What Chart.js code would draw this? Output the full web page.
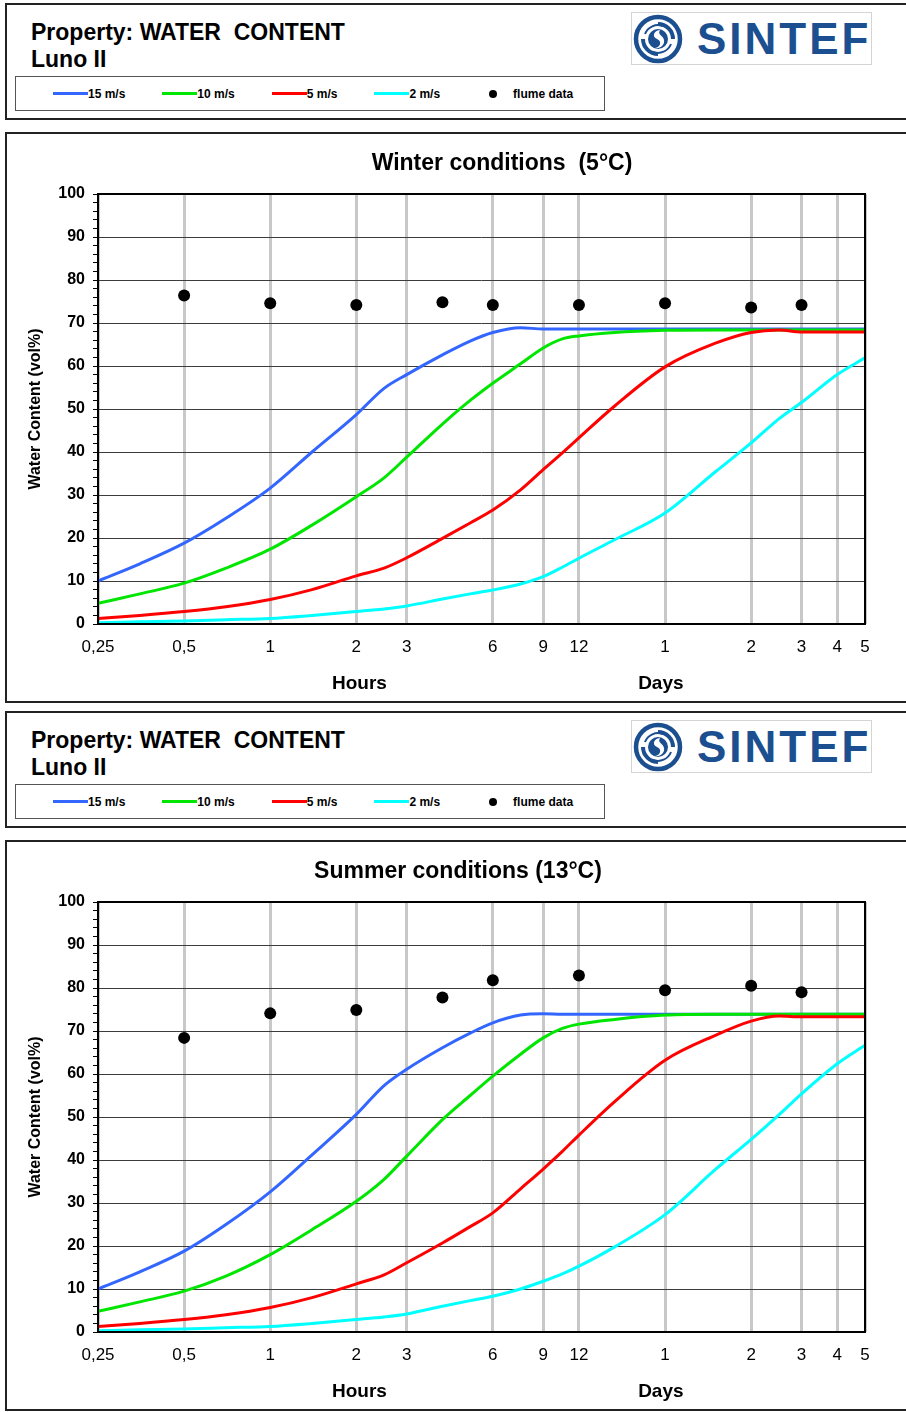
<!DOCTYPE html>
<html>
<head>
<meta charset="utf-8">
<title>Water content - Luno II</title>
<script src="https://cdn.jsdelivr.net/npm/chart.js@4.4.0/dist/chart.umd.min.js"></script>
<style>
  body { margin: 0; width: 906px; height: 1412px; overflow: hidden; background: #fff; position: relative;
         font-family: 'Liberation Sans', Arial, sans-serif; color: #000; }
  .panel { position: absolute; left: 5px; width: 912px; border: 2px solid #222; box-sizing: border-box; }
  .head { height: 117px; }
  .plot { height: 571px; }
  .prop, .prod { position: absolute; left: 24px; font-weight: bold; font-size: 23px; line-height: 25px; white-space: nowrap; }
  .prop { top: 15px; }
  .prod { top: 42px; }
  .legend { position: absolute; left: 8px; top: 71px; width: 590px; height: 35px; border: 1px solid #555;
            box-sizing: border-box; display: flex; align-items: center; padding-left: 37px; }
  .legend .item { display: flex; align-items: center; margin-right: 37px; font-size: 12px; font-weight: bold; white-space: nowrap; }
  .legend .swatch { width: 35px; height: 3px; }
  .legend .dot { width: 8px; height: 8px; border-radius: 50%; background: #000; margin-left: 12px; margin-right: 16px; }
  .logo { position: absolute; left: 624px; top: 7px; width: 241px; height: 53px; border: 1px solid #d4d4d4; box-sizing: border-box; }
  .logo svg { position: absolute; left: 1px; top: 1px; }
  .logo .name { position: absolute; left: 65px; top: 3px; font-size: 44px; line-height: 46px; font-weight: bold;
                color: #1b4f8f; letter-spacing: 3px; }
  .title { position: absolute; top: 15px; transform: translateX(-50%); font-size: 23px; line-height: 26px;
           font-weight: bold; white-space: pre; }
  canvas { position: absolute; left: 0; top: 0; }
</style>
</head>
<body>
<script>
// x positions of the model curves (hours after release)
const hours = [0.25, 0.35, 0.5, 0.7, 1, 1.4, 2, 2.5, 3, 4, 5, 6, 7.5, 9, 10.5, 12, 16, 24, 36, 48, 60, 72, 96, 120];

// Winter (5°C) model curves, vol%
const winter15 = [10.0, 14.0, 18.8, 24.6, 31.6, 40.0, 48.7, 54.8, 58.0, 62.6, 65.8, 67.8, 68.9, 68.6, 68.6, 68.6, 68.6, 68.6, 68.6, 68.6, 68.6, 68.6, 68.6, 68.6];
const winter10 = [4.8, 7.0, 9.5, 13.0, 17.4, 23.0, 29.6, 34.0, 38.8, 46.5, 52.0, 56.0, 60.5, 64.2, 66.3, 67.0, 67.8, 68.3, 68.4, 68.4, 68.4, 68.4, 68.4, 68.4];
const winter5 = [1.3, 2.0, 2.9, 4.0, 5.7, 8.0, 11.2, 13.0, 15.4, 19.9, 23.5, 26.5, 31.2, 35.9, 39.8, 43.3, 50.7, 59.8, 65.3, 67.8, 68.4, 67.9, 67.9, 67.9];
const winter2 = [0.3, 0.5, 0.7, 1.0, 1.3, 2.0, 2.9, 3.5, 4.2, 5.8, 7.0, 7.9, 9.3, 11.0, 13.2, 15.3, 19.6, 25.8, 35.4, 42.1, 47.7, 51.5, 58.0, 61.9];

// Summer (13°C) model curves, vol%
const summer15 = [10.0, 14.0, 18.8, 25.0, 32.6, 41.2, 50.6, 57.3, 61.1, 66.1, 69.5, 71.9, 73.7, 74.0, 73.9, 73.9, 73.9, 73.9, 73.9, 73.9, 73.9, 73.9, 73.9, 73.9];
const summer10 = [4.8, 7.0, 9.5, 13.0, 18.0, 23.8, 30.4, 35.5, 40.9, 49.4, 55.0, 59.5, 64.6, 68.4, 70.6, 71.6, 72.7, 73.7, 73.9, 73.9, 73.9, 73.9, 73.9, 73.9];
const summer5 = [1.3, 2.0, 2.9, 4.0, 5.7, 8.0, 11.2, 13.3, 16.1, 20.7, 24.5, 27.7, 33.3, 37.9, 42.0, 45.8, 53.6, 63.2, 69.0, 72.3, 73.5, 73.3, 73.3, 73.3];
const summer2 = [0.3, 0.5, 0.7, 1.0, 1.3, 2.0, 2.9, 3.5, 4.2, 6.0, 7.3, 8.3, 10.0, 11.8, 13.5, 15.3, 19.8, 27.3, 37.8, 44.8, 50.5, 55.4, 62.4, 66.7];

// flume measurements
const flumeHours = [0.5, 1, 2, 4, 6, 12, 24, 48, 72];
const winterFlume = [76.4, 74.6, 74.2, 74.8, 74.2, 74.2, 74.6, 73.6, 74.2];
const summerFlume = [68.4, 74.1, 74.9, 77.8, 81.8, 82.9, 79.5, 80.5, 79.0];

const seriesLabels = ['15 m/s', '10 m/s', '5 m/s', '2 m/s'];
const seriesColors = ['#3366ff', '#00e600', '#ff0000', '#00ffff'];
const drawOrder = [3, 2, 1, 4];
const flumeLabel = 'flume data';

// axis ticks (hours) and their printed labels
const xTicks = [0.25, 0.5, 1, 2, 3, 6, 9, 12, 24, 48, 72, 96, 120];
const xTickLabels = ['0,25', '0,5', '1', '2', '3', '6', '9', '12', '1', '2', '3', '4', '5'];
const yMin = 0, yMax = 100, yMajor = 10, yMinor = 2;
const axisGroups = [{ text: 'Hours', at: 2.05 }, { text: 'Days', at: 23.2 }];

const family = "'Liberation Sans', Arial, sans-serif";
Chart.defaults.font.family = family;

const logoSvg =
  '<svg width="50" height="50" viewBox="0 0 50 50">' +
  '<circle cx="25" cy="25" r="22" fill="none" stroke="#1b4f8f" stroke-width="4.5"/>' +
  '<path d="M25 10 A15 15 0 0 1 40 25" fill="none" stroke="#1b4f8f" stroke-width="4"/>' +
  '<path d="M25 40 A15 15 0 0 1 10 25" fill="none" stroke="#1b4f8f" stroke-width="4"/>' +
  '<path d="M12 20 A14 14 0 0 1 30 12" fill="none" stroke="#1b4f8f" stroke-width="2"/>' +
  '<path d="M38 30 A14 14 0 0 1 20 38" fill="none" stroke="#1b4f8f" stroke-width="2"/>' +
  '<circle cx="25" cy="25" r="10" fill="#1b4f8f"/>' +
  '<path d="M27 16 C20 17 19 23 24 25 C29 27 28 33 22 34 C27 35 32 31 31 26 C30 21 24 21 27 16 Z" fill="#fff"/>' +
  '</svg>';

function addHeader(top) {
  const head = document.createElement('div');
  head.className = 'panel head';
  head.style.top = top + 'px';
  let items = '';
  seriesLabels.forEach((label, i) => {
    items += `<div class="item"><span class="swatch" style="background:${seriesColors[i]}"></span>${label}</div>`;
  });
  items += `<div class="item"><span class="dot"></span>${flumeLabel}</div>`;
  head.innerHTML =
    '<div class="prop">Property: WATER&nbsp; CONTENT</div>' +
    '<div class="prod">Luno II</div>' +
    `<div class="legend">${items}</div>` +
    `<div class="logo">${logoSvg}<div class="name">SINTEF</div></div>`;
  document.body.appendChild(head);
}

// frame round the plot area
const frame = {
  id: 'frame',
  afterDatasetsDraw(chart) {
    const { ctx, chartArea: a } = chart;
    ctx.save();
    ctx.strokeStyle = '#000';
    ctx.lineWidth = 2;
    ctx.strokeRect(a.left, a.top, a.right - a.left, a.bottom - a.top);
    ctx.restore();
  }
};

// "Hours" / "Days" captions under the x axis
const groupLabels = {
  id: 'groupLabels',
  afterDraw(chart) {
    const { ctx, chartArea, scales: { x } } = chart;
    ctx.save();
    ctx.font = 'bold 19px ' + family;
    ctx.fillStyle = '#000';
    ctx.textAlign = 'center';
    ctx.textBaseline = 'middle';
    axisGroups.forEach(g => ctx.fillText(g.text, x.getPixelForValue(g.at), chartArea.bottom + 60));
    ctx.restore();
  }
};

function addChart(top, title, titleCenter, curves, flume) {
  const panel = document.createElement('div');
  panel.className = 'panel plot';
  panel.style.top = top + 'px';
  const t = document.createElement('div');
  t.className = 'title';
  t.style.left = titleCenter + 'px';
  t.textContent = title;
  const canvas = document.createElement('canvas');
  canvas.width = 899;
  canvas.height = 566;
  panel.appendChild(canvas);
  panel.appendChild(t);
  document.body.appendChild(panel);

  const datasets = curves.map((vals, i) => ({
    label: seriesLabels[i],
    data: hours.map((h, j) => ({ x: h, y: vals[j] })),
    borderColor: seriesColors[i],
    backgroundColor: seriesColors[i],
    borderWidth: 3,
    pointRadius: 0,
    cubicInterpolationMode: 'monotone',
    order: drawOrder[i]
  }));
  datasets.push({
    label: flumeLabel,
    data: flumeHours.map((h, j) => ({ x: h, y: flume[j] })),
    showLine: false,
    pointRadius: 6,
    pointBackgroundColor: '#000',
    pointBorderWidth: 0,
    order: 0
  });

  return new Chart(canvas, {
    type: 'line',
    data: { datasets },
    options: {
      responsive: false,
      animation: false,
      devicePixelRatio: 1,
      layout: { padding: { top: 60, right: 41, left: 0, bottom: 0 } },
      plugins: { legend: { display: false }, tooltip: { enabled: false } },
      scales: {
        x: {
          type: 'logarithmic',
          min: xTicks[0],
          max: xTicks[xTicks.length - 1],
          afterBuildTicks: s => { s.ticks = xTicks.map(v => ({ value: v })); },
          afterFit: s => { s.height = 76; },
          ticks: {
            autoSkip: false, maxRotation: 0, minRotation: 0, padding: 13, color: '#000',
            font: { size: 17 },
            callback: (v, i) => xTickLabels[i]
          },
          grid: { color: '#c8c8c8', lineWidth: 3, drawTicks: false },
          border: { display: false }
        },
        y: {
          min: yMin,
          max: yMax,
          afterFit: s => { s.width = 91; },
          ticks: {
            stepSize: yMinor, autoSkip: false, padding: 8, color: '#000',
            font: { size: 16, weight: 'bold' },
            callback: v => (v % yMajor === 0 ? v : '')
          },
          grid: {
            color: c => (c.tick && c.tick.value % yMajor === 0 ? '#3c3c3c' : 'rgba(0,0,0,0)'),
            lineWidth: 1,
            tickColor: '#000',
            tickLength: 5
          },
          border: { display: false },
          title: {
            display: true, text: 'Water Content (vol%)', color: '#000',
            font: { size: 16, weight: 'bold' }, padding: { top: 19, bottom: 0 }
          }
        }
      }
    },
    plugins: [frame, groupLabels]
  });
}

addHeader(3);
addChart(132, 'Winter conditions  (5°C)', 495, [winter15, winter10, winter5, winter2], winterFlume);
addHeader(711);
addChart(840, 'Summer conditions (13°C)', 451, [summer15, summer10, summer5, summer2], summerFlume);
</script>
</body>
</html>
